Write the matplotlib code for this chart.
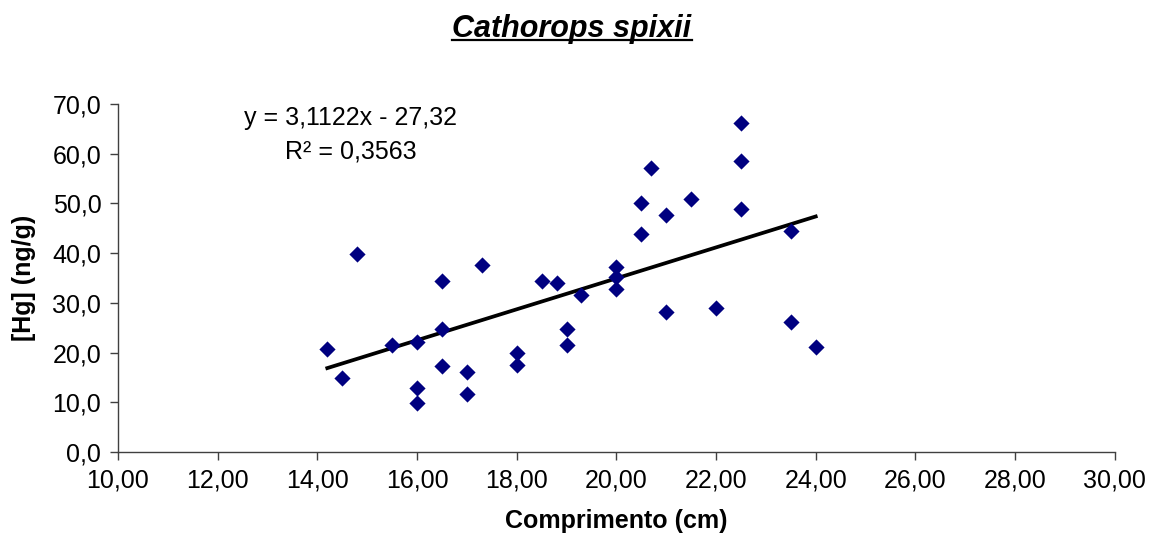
import matplotlib
matplotlib.use("Agg")
import matplotlib.pyplot as plt
from matplotlib.lines import Line2D
from matplotlib.ticker import FuncFormatter, MultipleLocator
import numpy as np

plt.rcParams['font.family'] = ['Liberation Sans', 'DejaVu Sans']

# comprimento (cm) e concentração de Hg (ng/g)
comprimento = [14.2, 14.5, 14.8, 15.5, 16.0, 16.0, 16.0, 16.5, 16.5, 16.5,
               17.0, 17.0, 17.3, 18.0, 18.0, 18.5, 18.8, 19.0, 19.0, 19.3,
               20.0, 20.0, 20.0, 20.5, 20.5, 20.7, 21.0, 21.0, 21.5, 22.0,
               22.5, 22.5, 22.5, 23.5, 23.5, 24.0]
hg = [20.7, 14.8, 39.9, 21.5, 22.2, 12.8, 9.8, 34.4, 24.7, 17.2,
      16.0, 11.7, 37.6, 19.9, 17.5, 34.4, 34.0, 24.7, 21.5, 31.6,
      37.2, 35.2, 32.8, 50.0, 43.8, 57.1, 47.7, 28.1, 50.8, 28.9,
      66.1, 58.6, 48.9, 44.5, 26.2, 21.1]

# linha de tendência
slope, intercept = 3.1122, -27.32
r2 = 0.3563

fig = plt.figure(figsize=(11.51, 5.47), dpi=100)
ax = fig.add_axes([0.1025, 0.1737, 0.866, 0.6362])

ax.scatter(comprimento, hg, marker='D', s=68, color='#000080', zorder=3, linewidths=0)

xt = np.array([min(comprimento), max(comprimento)])
ax.plot(xt, slope * xt + intercept, color='black', lw=2.7, zorder=2)

ax.set_xlim(10, 30)
ax.set_ylim(0, 70)
ax.xaxis.set_major_locator(MultipleLocator(2))
ax.yaxis.set_major_locator(MultipleLocator(10))
ax.xaxis.set_major_formatter(FuncFormatter(lambda v, p: f"{v:.2f}".replace('.', ',')))
ax.yaxis.set_major_formatter(FuncFormatter(lambda v, p: f"{v:.1f}".replace('.', ',')))

for s in ('top', 'right'):
    ax.spines[s].set_visible(False)
for s in ('left', 'bottom'):
    ax.spines[s].set_color('#404040')
    ax.spines[s].set_linewidth(1.0)
ax.tick_params(direction='out', length=6, width=1.0, color='#404040', labelsize=18, pad=6)

ax.set_xlabel("Comprimento (cm)", fontsize=18, fontweight='bold', labelpad=12)
ax.set_ylabel("[Hg] (ng/g)", fontsize=18, fontweight='bold', labelpad=12)

eq = f"y = {slope:.4f}x - {abs(intercept):.2f}".replace('.', ',')
ax.text(14.67, 67.2, eq, ha='center', va='center', fontsize=18)
ax.text(14.67, 60.4, f"R² = {r2:.4f}".replace('.', ','), ha='center', va='center', fontsize=18)

# título sublinhado
title_y = 1 - 37 / 547
title = fig.text(0.497, title_y, "Cathorops spixii", ha='center', va='baseline',
                 fontsize=22, fontweight='bold', fontstyle='italic')
fig.canvas.draw()
bb = title.get_window_extent()
uy = title_y - 2.5 / 547
fig.add_artist(Line2D([bb.x0 / fig.bbox.width, bb.x1 / fig.bbox.width], [uy, uy],
                      transform=fig.transFigure, color='black', lw=1.6))

fig.savefig("out.png", dpi=100)
